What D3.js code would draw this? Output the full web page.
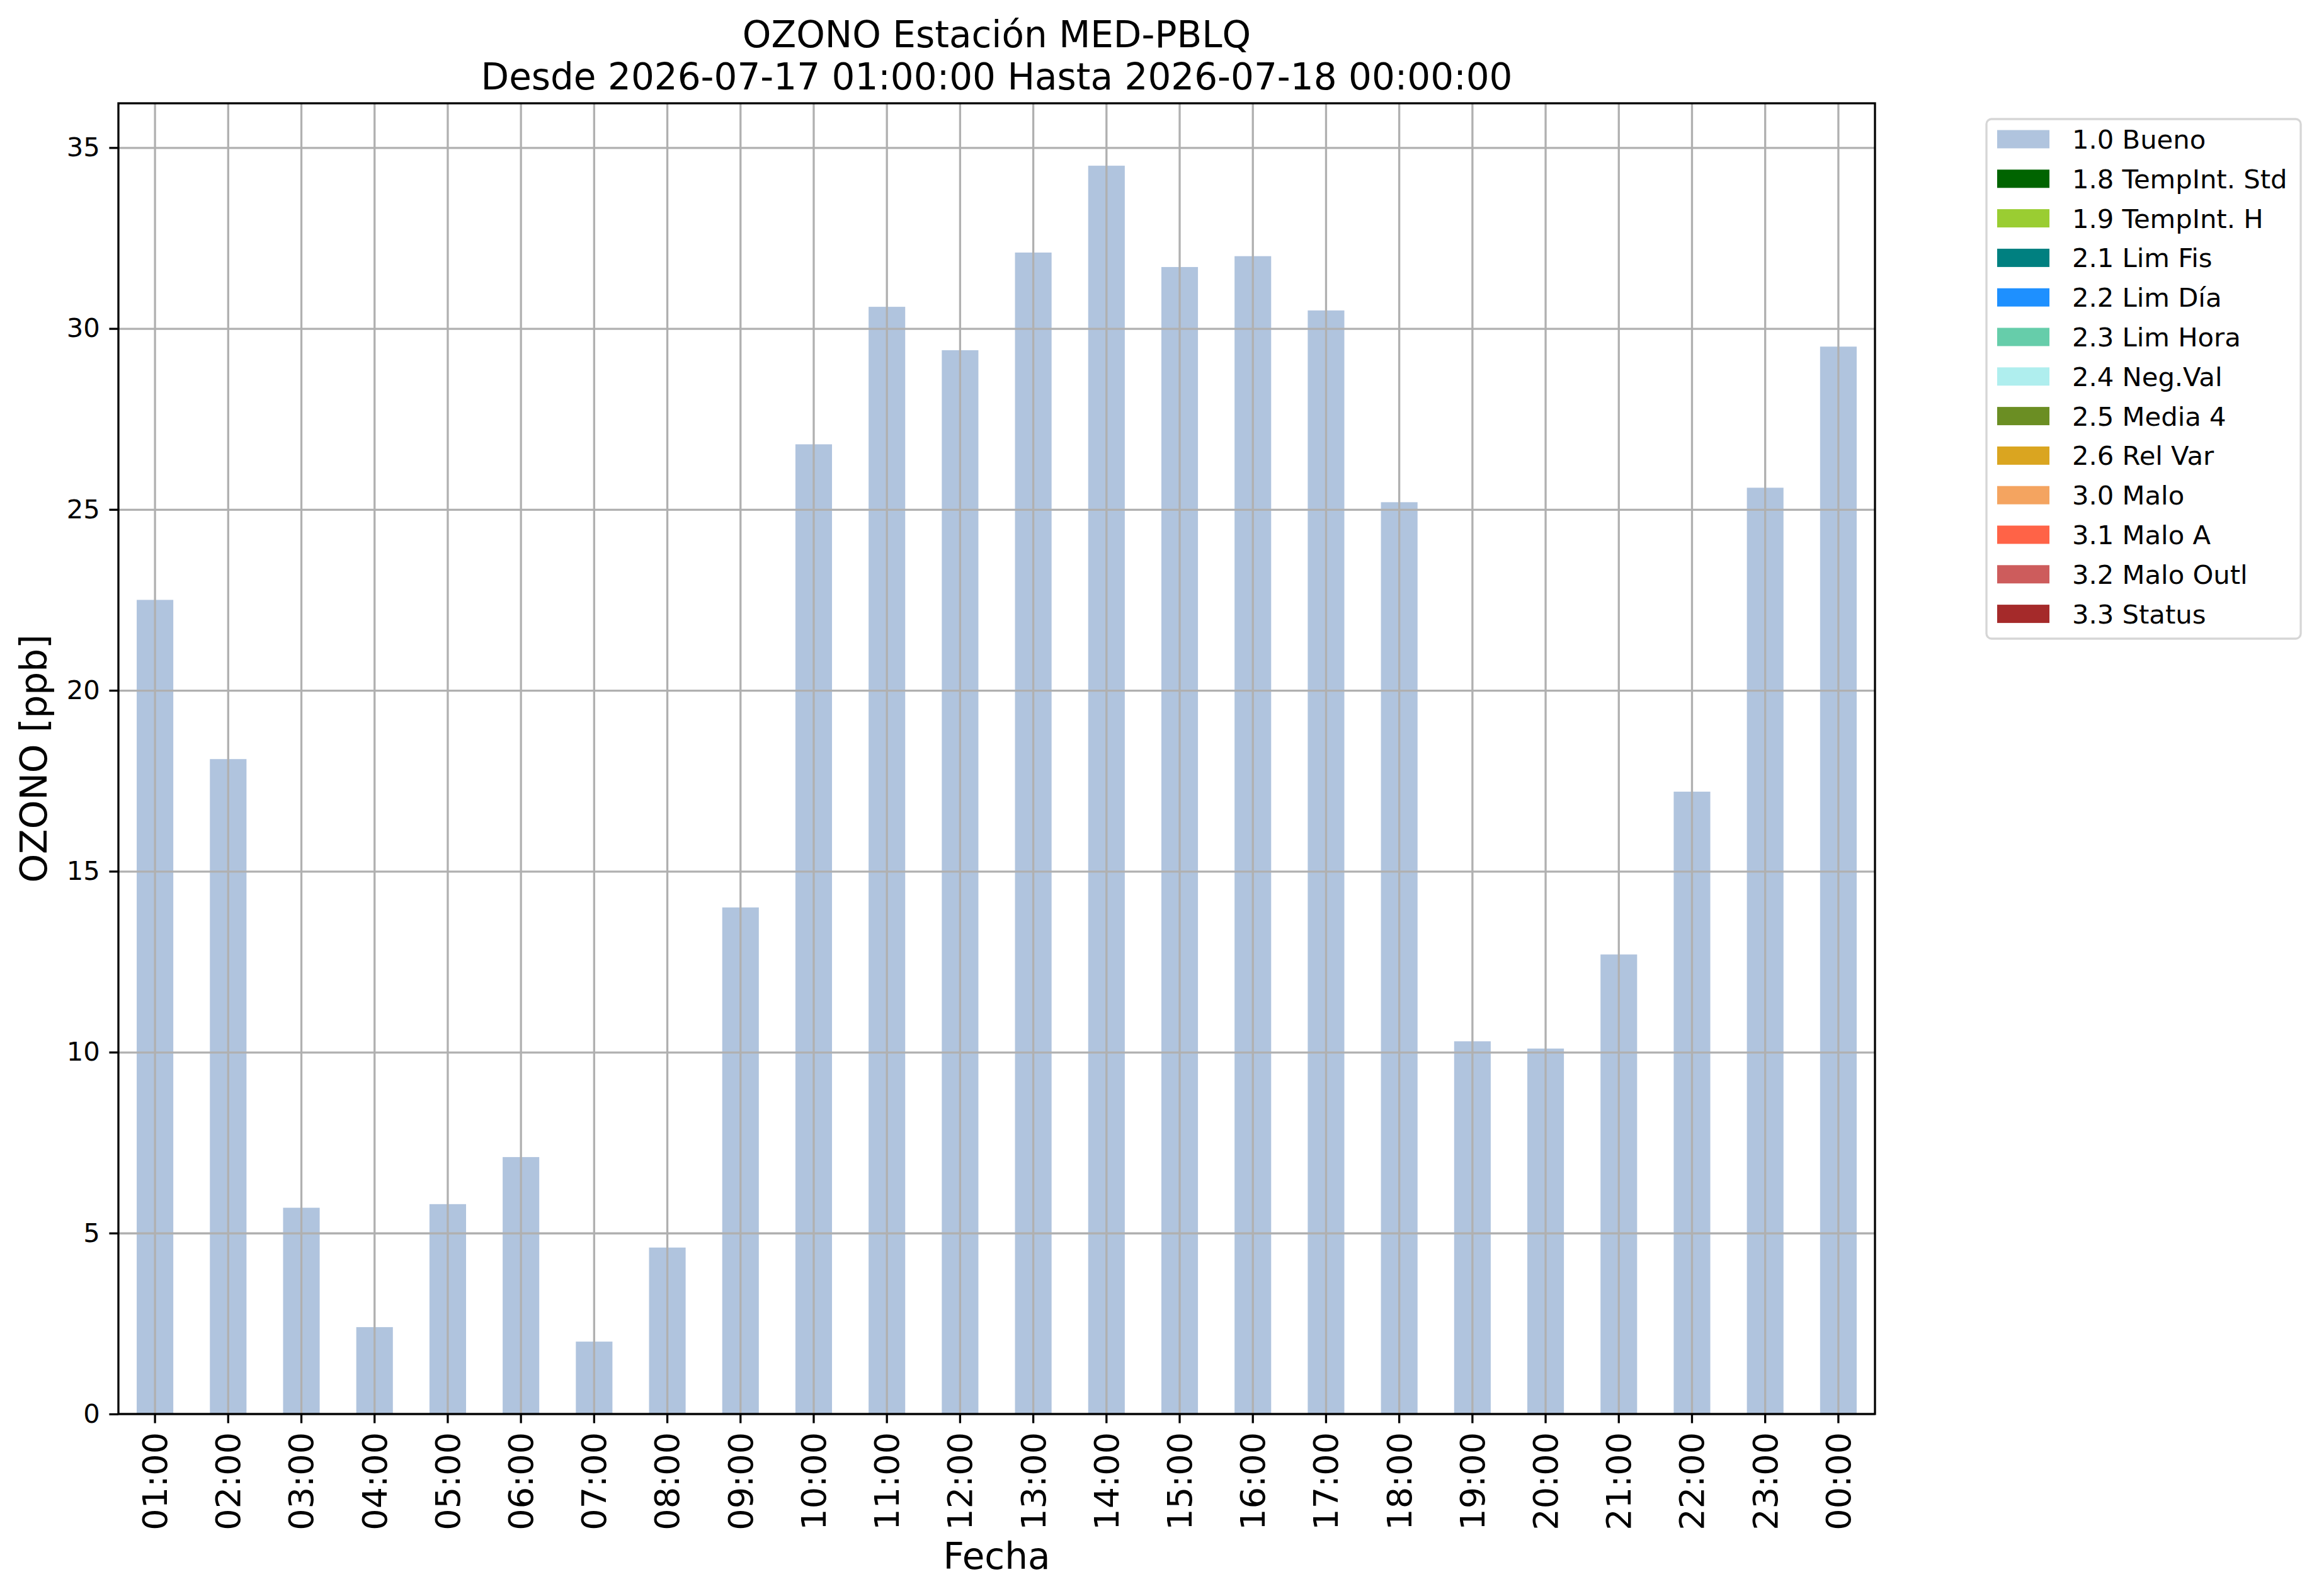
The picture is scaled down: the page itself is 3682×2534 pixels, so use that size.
<!DOCTYPE html>
<html>
<head>
<meta charset="utf-8">
<script src="https://cdn.jsdelivr.net/npm/d3@7"></script>
<style>
    body { margin: 0; background: #ffffff; }
    text { font-family: "DejaVu Sans", sans-serif; fill: #000000; }
</style>
</head>
<body>
<svg id="ozoneChart"></svg>
<script>
// data
var hours = ["01:00", "02:00", "03:00", "04:00", "05:00", "06:00", "07:00", "08:00",
    "09:00", "10:00", "11:00", "12:00", "13:00", "14:00", "15:00", "16:00",
    "17:00", "18:00", "19:00", "20:00", "21:00", "22:00", "23:00", "00:00"];
var ozone = [22.5, 18.1, 5.7, 2.4, 5.8, 7.1, 2.0, 4.6,
    14.0, 26.8, 30.6, 29.4, 32.1, 34.5, 31.7, 32.0,
    30.5, 25.2, 10.3, 10.1, 12.7, 17.2, 25.6, 29.5];
var yTicks = [0, 5, 10, 15, 20, 25, 30, 35];

var flagLabels = ["1.0 Bueno", "1.8 TempInt. Std", "1.9 TempInt. H", "2.1 Lim Fis",
    "2.2 Lim Día", "2.3 Lim Hora", "2.4 Neg.Val", "2.5 Media 4", "2.6 Rel Var",
    "3.0 Malo", "3.1 Malo A", "3.2 Malo Outl", "3.3 Status"];
var flagColors = ["#b0c4de", "#006400", "#9acd32", "#008080", "#1e90ff", "#66cdaa",
    "#afeeee", "#6b8e23", "#daa520", "#f4a460", "#ff6347", "#cd5c5c", "#a52a2a"];

var titleLines = ["OZONO Estación MED-PBLQ", "Desde 2026-07-17 01:00:00 Hasta 2026-07-18 00:00:00"];

// set the dimensions and margins of the graph
var svgWidth = 3682;
var svgHeight = 2534;
var margin = {
    "left": 188,
    "right": 705,
    "top": 164,
    "bottom": 289
};
var width = svgWidth - margin.left - margin.right;
var height = svgHeight - margin.top - margin.bottom;

var svg = d3.select("#ozoneChart")
    .attr("width", svgWidth)
    .attr("height", svgHeight);

var chart = svg.append("g")
    .attr("transform", "translate(" + margin.left + "," + margin.top + ")");

// scales -- pandas style bars: width 0.5, half a step on each side
var x = d3.scaleBand()
    .domain(hours)
    .range([0, width])
    .paddingInner(0.5)
    .paddingOuter(0.25);

var y = d3.scaleLinear()
    .domain([0, d3.max(ozone) * 1.05])
    .range([height, 0]);

// bars
chart.append("g")
    .attr("class", "bars")
    .selectAll("rect")
    .data(ozone).enter()
    .append("rect")
    .attr("x", (d, i) => x(hours[i]))
    .attr("y", d => y(d))
    .attr("width", x.bandwidth())
    .attr("height", d => y(0) - y(d))
    .style("fill", flagColors[0]);

// gridlines sit on top of the bars
chart.append("g")
    .attr("class", "grid")
    .call(d3.axisBottom(x).tickSize(height).tickFormat(""))
    .call(g => g.select(".domain").remove());

chart.append("g")
    .attr("class", "grid")
    .call(d3.axisLeft(y).tickValues(yTicks).tickSize(-width).tickFormat(""))
    .call(g => g.select(".domain").remove());

chart.selectAll(".grid line")
    .style("stroke", "#b0b0b0")
    .style("stroke-width", 3.3);

// axes
var gx = chart.append("g")
    .attr("class", "axis axis--x")
    .attr("transform", "translate(0," + height + ")")
    .call(d3.axisBottom(x).tickSize(14.6).tickPadding(14.6));
gx.select(".domain").remove();
gx.selectAll("text")
    .style("font-size", "54px")
    .attr("transform", "rotate(-90)")
    .attr("x", -29)
    .attr("y", 0)
    .attr("dy", "0.35em")
    .attr("text-anchor", "end");

var gy = chart.append("g")
    .attr("class", "axis axis--y")
    .call(d3.axisLeft(y).tickValues(yTicks).tickSize(14.6).tickPadding(14.6));
gy.select(".domain").remove();
gy.selectAll("text")
    .style("font-size", "41.7px");

chart.selectAll(".axis line")
    .style("stroke", "#000000")
    .style("stroke-width", 3.3);

// frame around the plot
chart.append("rect")
    .attr("width", width)
    .attr("height", height)
    .style("fill", "none")
    .style("stroke", "#000000")
    .style("stroke-width", 3.3);

// title and labels
svg.append("g")
    .selectAll("text")
    .data(titleLines).enter()
    .append("text")
    .attr("x", margin.left + width / 2)
    .attr("y", (d, i) => 75 + i * 67)
    .attr("text-anchor", "middle")
    .style("font-size", "58px")
    .text(d => d);

svg.append("text")
    .attr("x", margin.left + width / 2)
    .attr("y", 2491)
    .attr("text-anchor", "middle")
    .style("font-size", "58px")
    .text("Fecha");

svg.append("text")
    .attr("transform", "translate(74," + (margin.top + height / 2) + ") rotate(-90)")
    .attr("text-anchor", "middle")
    .style("font-size", "58px")
    .text("OZONO [ppb]");

// legend
var legend = svg.append("g")
    .attr("class", "legend-group")
    .attr("transform", "translate(3154,189)");

legend.append("rect")
    .attr("width", 499)
    .attr("height", 825)
    .attr("rx", 8)
    .style("fill", "#ffffff")
    .style("fill-opacity", 0.8)
    .style("stroke", "#d6d6d6")
    .style("stroke-width", 3.3);

var rows = legend.selectAll(".legend-row")
    .data(flagLabels).enter()
    .append("g")
    .attr("class", "legend-row")
    .attr("transform", (d, i) => "translate(0," + (32 + i * 62.8) + ")");

rows.append("rect")
    .attr("x", 17)
    .attr("y", -14.5)
    .attr("width", 83)
    .attr("height", 29)
    .style("fill", (d, i) => flagColors[i]);

rows.append("text")
    .attr("x", 136)
    .attr("y", 15)
    .style("font-size", "41.7px")
    .text(d => d);
</script>
</body>
</html>
